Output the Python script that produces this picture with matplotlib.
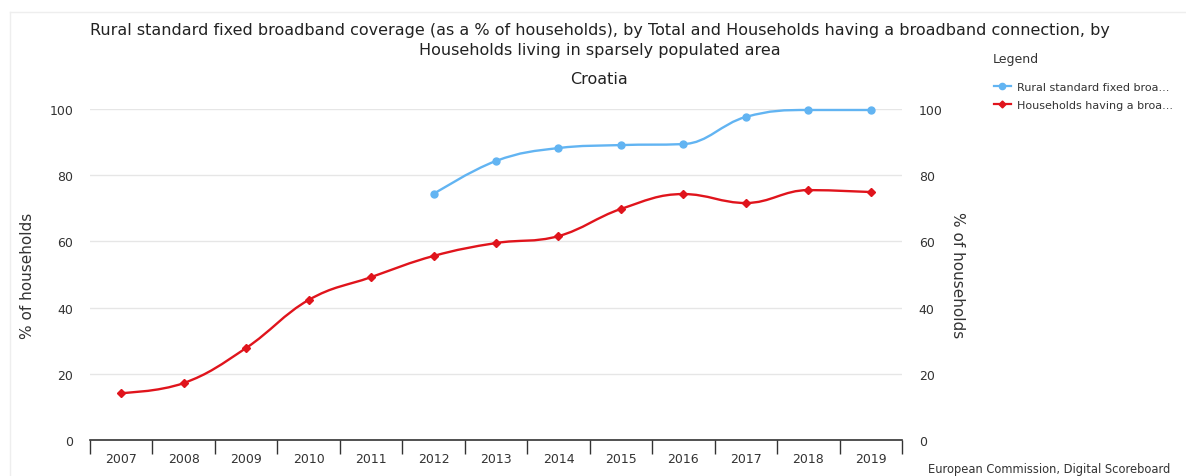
import numpy as np
import matplotlib.pyplot as plt
from matplotlib.path import Path
from matplotlib.patches import PathPatch
from matplotlib.lines import Line2D

years = ['2007', '2008', '2009', '2010', '2011', '2012', '2013',
         '2014', '2015', '2016', '2017', '2018', '2019']
rural_coverage = [None, None, None, None, None, 74.3, 84.3,
                  88.2, 89.1, 89.4, 97.6, 99.7, 99.7]
households_bb = [14.2, 17.2, 27.8, 42.3, 49.2, 55.6, 59.5,
                 61.6, 69.8, 74.3, 71.6, 75.5, 74.9]
yticks = [0, 20, 40, 60, 80, 100]

BLUE = '#62b4f2'
RED = '#e0141c'
TXT = '#333333'


def spline_path(xs, ys, smoothing=1.5):
    # highcharts-like spline: bezier control points per point
    n = len(xs)
    den = smoothing + 1
    left, right = [], []
    for i in range(n):
        x, y = xs[i], ys[i]
        if i == 0 or i == n - 1:
            left.append((x, y))
            right.append((x, y))
            continue
        lx, ly = xs[i - 1], ys[i - 1]
        nx, ny = xs[i + 1], ys[i + 1]
        lcx = (smoothing * x + lx) / den
        lcy = (smoothing * y + ly) / den
        rcx = (smoothing * x + nx) / den
        rcy = (smoothing * y + ny) / den
        corr = (rcy - lcy) * (rcx - x) / (rcx - lcx) + y - rcy
        lcy += corr
        rcy += corr
        if lcy > ly and lcy > y:
            lcy = max(ly, y)
            rcy = 2 * y - lcy
        elif lcy < ly and lcy < y:
            lcy = min(ly, y)
            rcy = 2 * y - lcy
        if rcy > ny and rcy > y:
            rcy = max(ny, y)
            lcy = 2 * y - rcy
        elif rcy < ny and rcy < y:
            rcy = min(ny, y)
            lcy = 2 * y - rcy
        left.append((lcx, lcy))
        right.append((rcx, rcy))
    verts = [(xs[0], ys[0])]
    codes = [Path.MOVETO]
    for i in range(1, n):
        verts += [right[i - 1], left[i], (xs[i], ys[i])]
        codes += [Path.CURVE4] * 3
    return Path(verts, codes)


def draw_series(ax, vals, color, marker, ms):
    xs = [i for i, v in enumerate(vals) if v is not None]
    ys = [v for v in vals if v is not None]
    ax.add_patch(PathPatch(spline_path(xs, ys), facecolor='none',
                           edgecolor=color, lw=1.7, zorder=3, clip_on=False))
    ax.plot(xs, ys, ls='none', marker=marker, ms=ms, color=color,
            zorder=4, clip_on=False)


fig = plt.figure(figsize=(11.86, 4.77), dpi=100)
W, H = 1186, 477
ax = fig.add_axes([90 / W, (H - 441) / H, (902 - 90) / W, (441 - 110) / H])

draw_series(ax, rural_coverage, BLUE, 'o', 5)
draw_series(ax, households_bb, RED, 'D', 4)

ax.set_xlim(-0.5, len(years) - 0.5)
ax.set_ylim(0, 100)
ax.set_xticks(range(len(years)))
ax.set_xticklabels(years)
ax.set_xticks(np.arange(-0.5, len(years), 1), minor=True)
ax.tick_params(axis='x', which='major', length=0, pad=9, labelsize=9, labelcolor=TXT)
ax.tick_params(axis='x', which='minor', length=10, width=1, color='#333333', direction='out')
ax.set_yticks(yticks)
ax.tick_params(axis='y', length=0, pad=12, labelsize=9, labelcolor=TXT)
ax.grid(axis='y', color='#e6e6e6', lw=1)
for s in ['top', 'left', 'right']:
    ax.spines[s].set_visible(False)
ax.spines['bottom'].set_color('#333333')
ax.spines['bottom'].set_linewidth(1.2)
ax.set_ylabel('% of households', fontsize=11, color=TXT)
ax.yaxis.set_label_coords((35 - 90) / 812, 0.5)

ax2 = ax.twinx()
ax2.set_ylim(0, 100)
ax2.set_yticks(yticks)
ax2.tick_params(axis='y', length=0, pad=12, labelsize=9, labelcolor=TXT)
for s in ax2.spines.values():
    s.set_visible(False)
ax2.set_ylabel('% of households', fontsize=11, color=TXT, rotation=270, va='center')
ax2.yaxis.set_label_coords((958 - 90) / 812, 0.5)

fig.text(600 / W, 1 - 31 / H,
         'Rural standard fixed broadband coverage (as a % of households), by Total and Households having a broadband connection, by',
         ha='center', va='center', fontsize=11.5, color='#222222')
fig.text(600 / W, 1 - 50 / H, 'Households living in sparsely populated area',
         ha='center', va='center', fontsize=11.5, color='#222222')
fig.text(599 / W, 1 - 80 / H, 'Croatia', ha='center', va='center',
         fontsize=11.5, color='#222222')

# legend
fig.text(993 / W, 1 - 60 / H, 'Legend', ha='left', va='center', fontsize=9, color=TXT)
handles = [Line2D([], [], color=BLUE, marker='o', ms=4.5, lw=1.6),
           Line2D([], [], color=RED, marker='D', ms=3.5, lw=1.6)]
labels = ['Rural standard fixed broa...', 'Households having a broa...']
fig.legend(handles, labels, loc='upper left', bbox_to_anchor=(988 / W, 1 - 77 / H),
           frameon=False, fontsize=8, handlelength=1.6, handletextpad=0.5,
           labelspacing=0.75, borderpad=0, labelcolor=TXT)

fig.text(928 / W, 1 - 470 / H, 'European Commission, Digital Scoreboard',
         ha='left', va='center', fontsize=8.3, color=TXT)

# panel border
fig.add_artist(Line2D([10 / W, 10 / W], [0, 1 - 13 / H], color='#eeeeee', lw=1))
fig.add_artist(Line2D([10 / W, 1], [1 - 13 / H, 1 - 13 / H], color='#eeeeee', lw=1))

fig.savefig('out.png', dpi=100)
